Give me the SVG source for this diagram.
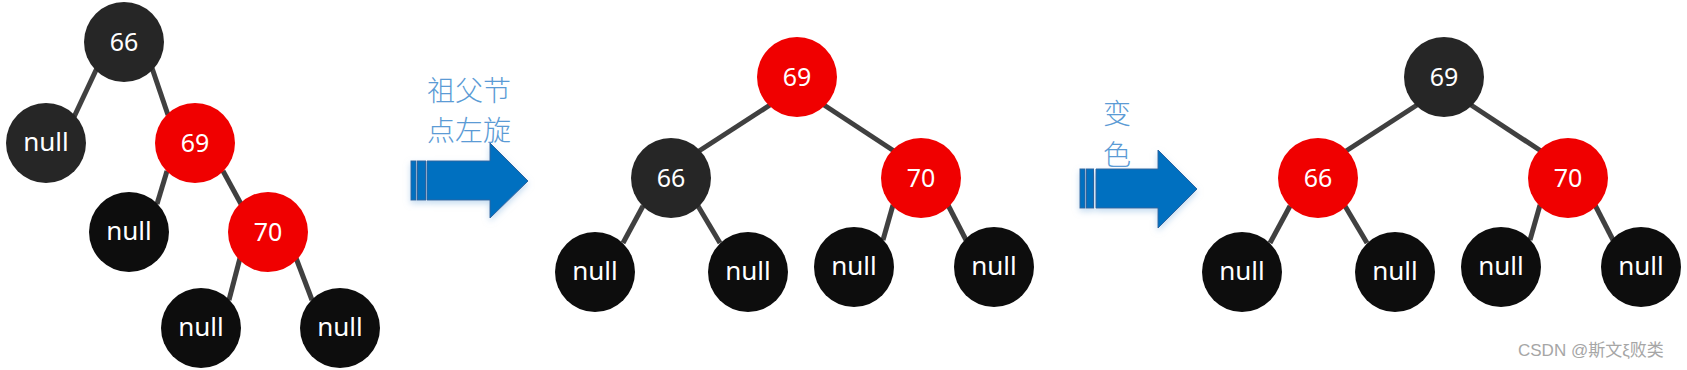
<svg xmlns="http://www.w3.org/2000/svg" width="1687" height="370" viewBox="0 0 1687 370">
<style>
.red{fill:#f00000}
.dark{fill:#262626}
.blk{fill:#0d0d0d}
.lbl{fill:#ffffff;font-family:"Noto Sans","Open Sans","DejaVu Sans",sans-serif;text-anchor:middle}
.num{font-size:25px}
.nul{font-size:26px}
.edge{stroke:#404040;stroke-width:5;fill:none}
.cap{fill:#5b9bd5;font-family:"Noto Sans CJK SC","Noto Sans",sans-serif;font-size:28px;font-weight:300;text-anchor:middle}
.arw{fill:#0070c0;stroke:#2a64a0;stroke-width:1}
.wm{fill:#a6a6a6;font-family:"Liberation Sans","Noto Sans CJK SC",sans-serif;font-size:17px}
</style>
<defs>
<filter id="glow" x="-20%" y="-20%" width="140%" height="140%">
<feGaussianBlur in="SourceAlpha" stdDeviation="3"/>
<feOffset dx="0" dy="3" result="b"/>
<feFlood flood-color="#9dc3e6" flood-opacity="0.6"/>
<feComposite in2="b" operator="in"/>
<feMerge><feMergeNode/><feMergeNode in="SourceGraphic"/></feMerge>
</filter>
</defs>
<rect width="1687" height="370" fill="#ffffff"/>

<g id="connectors">
<line class="edge" x1="97" y1="68" x2="74" y2="117"/>
<line class="edge" x1="152" y1="68" x2="168" y2="115"/>
<line class="edge" x1="167" y1="171" x2="157" y2="204"/>
<line class="edge" x1="223" y1="171" x2="241" y2="204"/>
<line class="edge" x1="240" y1="258" x2="229" y2="300"/>
<line class="edge" x1="296" y1="258" x2="312" y2="300"/>
<line class="edge" x1="770" y1="105" x2="699" y2="151"/>
<line class="edge" x1="824" y1="105" x2="894" y2="151"/>
<line class="edge" x1="643" y1="206" x2="623" y2="243"/>
<line class="edge" x1="698" y1="206" x2="720" y2="243"/>
<line class="edge" x1="893" y1="205" x2="883" y2="240"/>
<line class="edge" x1="948" y1="205" x2="966" y2="240"/>
<line class="edge" x1="1417" y1="105" x2="1346" y2="151"/>
<line class="edge" x1="1471" y1="105" x2="1541" y2="151"/>
<line class="edge" x1="1290" y1="206" x2="1270" y2="243"/>
<line class="edge" x1="1345" y1="206" x2="1367" y2="243"/>
<line class="edge" x1="1540" y1="205" x2="1530" y2="240"/>
<line class="edge" x1="1595" y1="205" x2="1613" y2="240"/>
</g>

<g id="L66"><circle class="dark" cx="124" cy="42" r="40"/><text class="lbl num" x="124" y="51">66</text></g>
<g id="Lnull1"><circle class="dark" cx="46" cy="143" r="40"/><text class="lbl nul" x="46" y="151">null</text></g>
<g id="L69"><circle class="red" cx="195" cy="143" r="40"/><text class="lbl num" x="195" y="152">69</text></g>
<g id="Lnull2"><circle class="blk" cx="129" cy="232" r="40"/><text class="lbl nul" x="129" y="240">null</text></g>
<g id="L70"><circle class="red" cx="268" cy="232" r="40"/><text class="lbl num" x="268" y="241">70</text></g>
<g id="Lnull3"><circle class="blk" cx="201" cy="328" r="40"/><text class="lbl nul" x="201" y="336">null</text></g>
<g id="Lnull4"><circle class="blk" cx="340" cy="328" r="40"/><text class="lbl nul" x="340" y="336">null</text></g>

<g id="arrow1">
<text class="cap" x="469" y="101">祖父节</text>
<text class="cap" x="469" y="141">点左旋</text>
<g filter="url(#glow)">
<rect class="arw" x="411" y="161" width="5" height="39"/>
<rect class="arw" x="417.5" y="161" width="8" height="39"/>
<polygon class="arw" points="427,161 490,161 490,143 528,181 490,218 490,200 427,200"/>
</g>
</g>

<g id="M69"><circle class="red" cx="797" cy="77" r="40"/><text class="lbl num" x="797" y="86">69</text></g>
<g id="M66"><circle class="dark" cx="671" cy="178" r="40"/><text class="lbl num" x="671" y="187">66</text></g>
<g id="M70"><circle class="red" cx="921" cy="178" r="40"/><text class="lbl num" x="921" y="187">70</text></g>
<g id="Mnull1"><circle class="blk" cx="595" cy="272" r="40"/><text class="lbl nul" x="595" y="280">null</text></g>
<g id="Mnull2"><circle class="blk" cx="748" cy="272" r="40"/><text class="lbl nul" x="748" y="280">null</text></g>
<g id="Mnull3"><circle class="blk" cx="854" cy="267" r="40"/><text class="lbl nul" x="854" y="275">null</text></g>
<g id="Mnull4"><circle class="blk" cx="994" cy="267" r="40"/><text class="lbl nul" x="994" y="275">null</text></g>

<g id="arrow2">
<text class="cap" x="1117" y="124">变</text>
<text class="cap" x="1117" y="165">色</text>
<g filter="url(#glow)">
<rect class="arw" x="1080" y="169" width="5" height="39"/>
<rect class="arw" x="1086.5" y="169" width="7" height="39"/>
<polygon class="arw" points="1096,169 1158,169 1158,150 1197,189 1158,228 1158,208 1096,208"/>
</g>
</g>

<g id="R69"><circle class="dark" cx="1444" cy="77" r="40"/><text class="lbl num" x="1444" y="86">69</text></g>
<g id="R66"><circle class="red" cx="1318" cy="178" r="40"/><text class="lbl num" x="1318" y="187">66</text></g>
<g id="R70"><circle class="red" cx="1568" cy="178" r="40"/><text class="lbl num" x="1568" y="187">70</text></g>
<g id="Rnull1"><circle class="blk" cx="1242" cy="272" r="40"/><text class="lbl nul" x="1242" y="280">null</text></g>
<g id="Rnull2"><circle class="blk" cx="1395" cy="272" r="40"/><text class="lbl nul" x="1395" y="280">null</text></g>
<g id="Rnull3"><circle class="blk" cx="1501" cy="267" r="40"/><text class="lbl nul" x="1501" y="275">null</text></g>
<g id="Rnull4"><circle class="blk" cx="1641" cy="267" r="40"/><text class="lbl nul" x="1641" y="275">null</text></g>

<text class="wm" x="1518" y="356">CSDN @斯文ξ败类</text>
</svg>
